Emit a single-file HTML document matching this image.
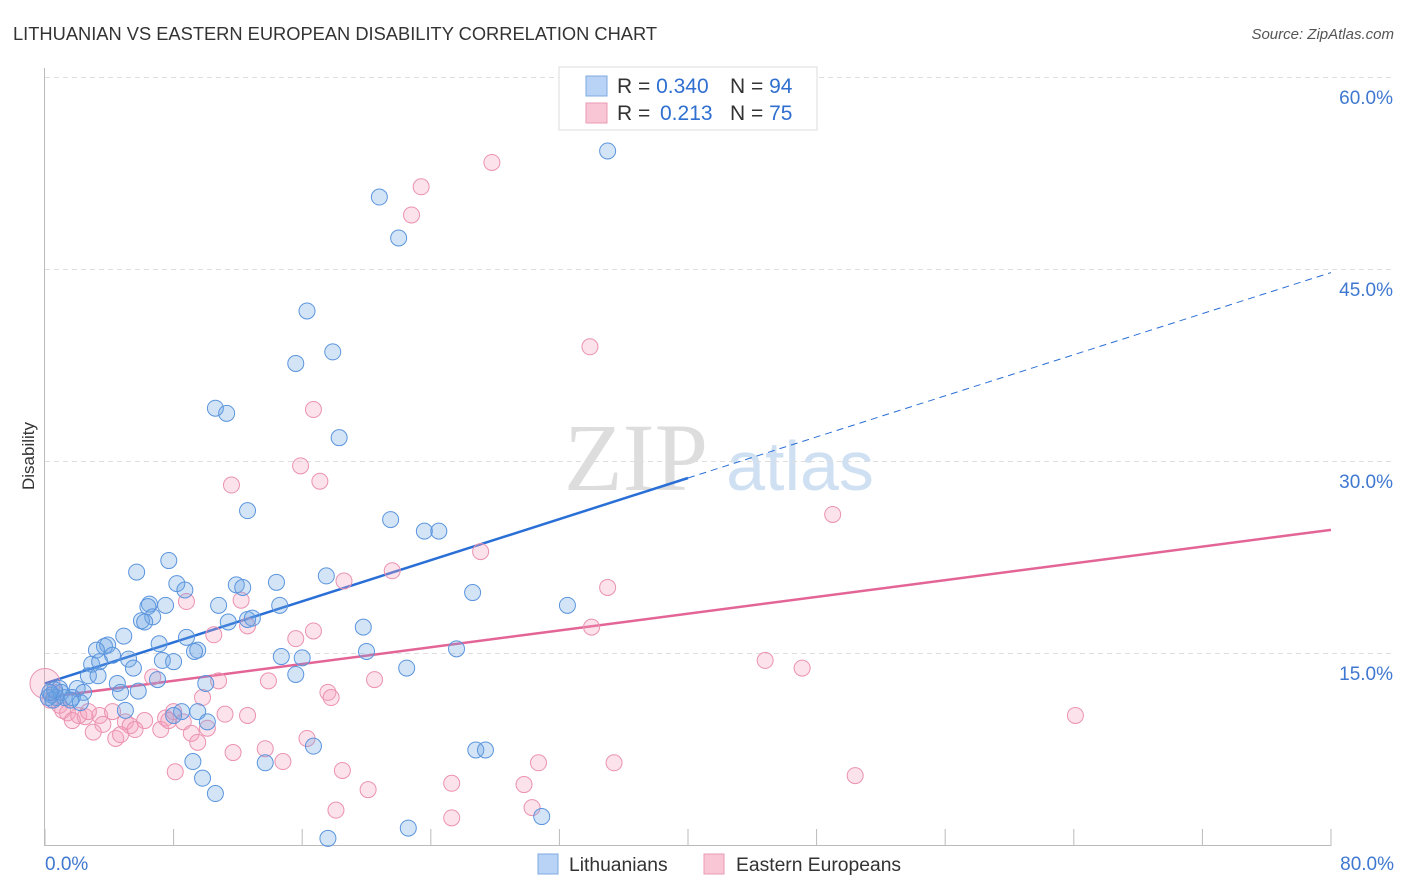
<!DOCTYPE html>
<html><head><meta charset="utf-8"><style>
body{margin:0;background:#fff;font-family:"Liberation Sans",sans-serif;}
svg{display:block}
</style></head><body>
<svg id="chart" width="1406" height="892" xmlns="http://www.w3.org/2000/svg">
<text x="13" y="40" font-size="18.3" fill="#333">LITHUANIAN VS EASTERN EUROPEAN DISABILITY CORRELATION CHART</text>
<text x="1394" y="39" font-size="15" fill="#555" font-style="italic" text-anchor="end">Source: ZipAtlas.com</text>
<text x="34" y="456" font-size="17" fill="#333" text-anchor="middle" transform="rotate(-90 34 456)">Disability</text>
<g><text x="636" y="490" font-size="96" fill="#ddd" font-family="Liberation Serif,serif" text-anchor="middle">ZIP</text><text x="800" y="490" font-size="70" fill="#cfe0f3" text-anchor="middle">atlas</text></g>
<g id="grid"></g><g id="axes"></g><g id="lines"></g><g id="pts"></g>
<g>
<rect x="559" y="67" width="258" height="63" fill="#fff" stroke="#ddd"/>
<rect x="586" y="76" width="21" height="20" fill="#b8d3f5" stroke="#7fa9e0"/>
<rect x="586" y="103" width="21" height="20" fill="#f9c6d6" stroke="#eb9ab4"/>
<text x="617" y="93" font-size="21" fill="#333">R = <tspan fill="#2f6fd0">0.340</tspan><tspan x="730">N = </tspan><tspan fill="#2f6fd0">94</tspan></text>
<text x="617" y="120" font-size="21" fill="#333">R = <tspan fill="#2f6fd0" x="660">0.213</tspan><tspan x="730">N = </tspan><tspan fill="#2f6fd0">75</tspan></text>
</g>
<g>
<rect x="538" y="854" width="20" height="20" fill="#b8d3f5" stroke="#7fa9e0"/>
<text x="569" y="871" font-size="19.3" fill="#333">Lithuanians</text>
<rect x="704" y="854" width="20" height="20" fill="#f9c6d6" stroke="#eb9ab4"/>
<text x="736" y="871" font-size="19.3" fill="#333">Eastern Europeans</text>
</g>
</svg>
<script>
const blueX=[35.0,20.8,22.0,16.3,15.6,17.9,10.6,11.3,18.3,12.6,21.5,23.6,24.5,5.7,7.7,8.2,8.7,11.9,12.3,14.4,17.5,26.6,32.5,6.5,6.4,7.5,10.8,14.6,6.7,6.0,6.2,11.4,12.6,12.9,19.8,4.9,8.8,7.1,3.7,3.9,3.2,4.2,9.5,9.3,5.2,7.3,8.0,2.9,3.4,5.5,14.7,16.0,20.0,25.6,22.5,15.6,2.7,3.3,4.5,7.0,10.0,0.9,2.0,2.4,4.7,5.8,0.4,0.7,1.2,1.7,2.2,5.0,8.5,8.0,9.5,10.1,0.5,0.2,9.2,9.8,10.6,26.8,27.4,16.7,13.7,22.6,17.6,30.9,1.0,1.6,0.6,0.3];
const blueY=[54.3,50.7,47.5,41.8,37.7,38.6,34.2,33.8,31.9,26.2,25.5,24.6,24.6,21.4,22.3,20.5,20.0,20.4,20.2,20.6,21.1,19.8,18.8,18.9,18.7,18.8,18.8,18.8,17.9,17.6,17.5,17.5,17.7,17.8,17.1,16.4,16.3,15.8,15.6,15.7,15.3,14.9,15.3,15.2,14.6,14.5,14.4,14.2,14.4,13.9,14.8,14.7,15.2,15.4,13.9,13.4,13.3,13.3,12.7,13.0,12.7,12.3,12.3,12.0,12.0,12.1,11.8,11.6,11.6,11.6,11.2,10.6,10.5,10.2,10.5,9.7,11.4,11.6,6.6,5.3,4.1,7.5,7.5,7.8,6.5,1.4,0.6,2.3,12.0,11.4,12.2,12.0];
const pinkX=[27.8,23.4,22.8,33.9,16.7,15.9,17.1,11.6,49.0,27.1,18.6,21.6,35.0,8.8,12.2,34.0,10.5,15.6,16.7,12.6,44.8,47.1,20.5,13.9,10.8,6.7,9.8,17.6,17.8,0.3,0.9,1.4,2.1,2.5,3.4,4.2,5.0,6.2,7.5,8.0,8.6,1.1,1.7,3.6,3.0,5.3,5.6,7.2,9.1,10.1,11.2,12.6,4.4,4.7,9.5,11.7,13.7,16.3,14.8,8.1,18.5,20.1,25.3,29.8,30.7,35.4,50.4,64.1,18.1,25.3,30.3,7.7,2.7,0.6];
const pinkY=[53.4,51.5,49.3,39.0,34.1,29.7,28.5,28.2,25.9,23.0,20.7,21.5,20.2,19.1,19.2,17.1,16.5,16.2,16.8,17.2,14.5,13.9,13.0,12.9,12.9,13.2,11.6,12.0,11.6,11.4,11.0,10.4,10.2,10.1,10.2,10.5,9.7,9.8,10.0,10.5,9.7,10.6,9.8,9.5,8.9,9.4,9.1,9.1,8.8,9.2,10.3,10.2,8.4,8.7,8.1,7.3,7.6,8.4,6.6,5.8,5.9,4.4,4.9,4.8,6.5,6.5,5.5,10.2,2.8,2.2,3.0,9.8,10.5,12.0];
const yTicks=[15,30,45,60];
const xTickVals=[0,8,16,24,32,40,48,56,64,72,80];
const blueTrend=[12.7,44.8];
const pinkTrend=[11.6,24.7];
const NS='http://www.w3.org/2000/svg';
const sx=v=>45+v*(1286/80), sy=v=>846-v*12.8;
function mk(tag,attrs,parent){const e=document.createElementNS(NS,tag);for(const k in attrs)e.setAttribute(k,attrs[k]);document.getElementById(parent).appendChild(e);return e;}
yTicks.forEach(t=>{
 const l=mk('line',{x1:45,x2:1394,y1:sy(t)-0.5,y2:sy(t)-0.5,stroke:'#ddd','stroke-dasharray':'5,4'},'grid');
 
 
 const tx=mk('text',{x:1393,y:sy(t)+26,'font-size':19,fill:'#3f78d0','text-anchor':'end'},'grid');
 tx.textContent=t.toFixed(1)+'%';
 
 
});
const ax=mk('line',{x1:45,x2:1331,y1:845.5,y2:845.5,stroke:'#bbb'},'axes');


const ay=mk('line',{x1:44.5,x2:44.5,y1:68,y2:846,stroke:'#bbb'},'axes');


xTickVals.forEach(t=>{
 const l=mk('line',{x1:sx(t),x2:sx(t),y1:829,y2:846,stroke:'#bbb'},'axes');
 
 
});
[[0,'start',45],[80,'end',1394]].forEach(([v,a,x])=>{
 const tx=mk('text',{x:x,y:870,'font-size':19,fill:'#3f78d0','text-anchor':a},'axes');
 tx.textContent=v.toFixed(1)+'%';
 
 
});
const bmid=blueTrend[0]+(blueTrend[1]-blueTrend[0])*0.5;
const b1=mk('line',{x1:sx(0),y1:sy(blueTrend[0]),x2:sx(40),y2:sy(bmid),stroke:'#2a6fd6','stroke-width':2.5},'lines');


const b2=mk('line',{x1:sx(40),y1:sy(bmid),x2:sx(80),y2:sy(blueTrend[1]),stroke:'#2a6fd6','stroke-width':1,'stroke-dasharray':'7,5'},'lines');


const p1=mk('line',{x1:sx(0),y1:sy(pinkTrend[0]),x2:sx(80),y2:sy(pinkTrend[1]),stroke:'#e36596','stroke-width':2.5},'lines');


pinkX.forEach((x,i)=>{
 const c=mk('circle',{cx:sx(x),cy:sy(pinkY[i]),r:8,fill:'rgba(244,160,190,0.3)',stroke:'#eb92b0','stroke-width':1},'pts');
 
 
});
const big=mk('circle',{cx:sx(0),cy:sy(12.7),r:15,fill:'rgba(244,160,190,0.3)',stroke:'#eb92b0'},'pts');


blueX.forEach((x,i)=>{
 const c=mk('circle',{cx:sx(x),cy:sy(blueY[i]),r:8,fill:'rgba(110,165,230,0.3)',stroke:'#5b95dd','stroke-width':1},'pts');
 
 
});
</script>
</body></html>
